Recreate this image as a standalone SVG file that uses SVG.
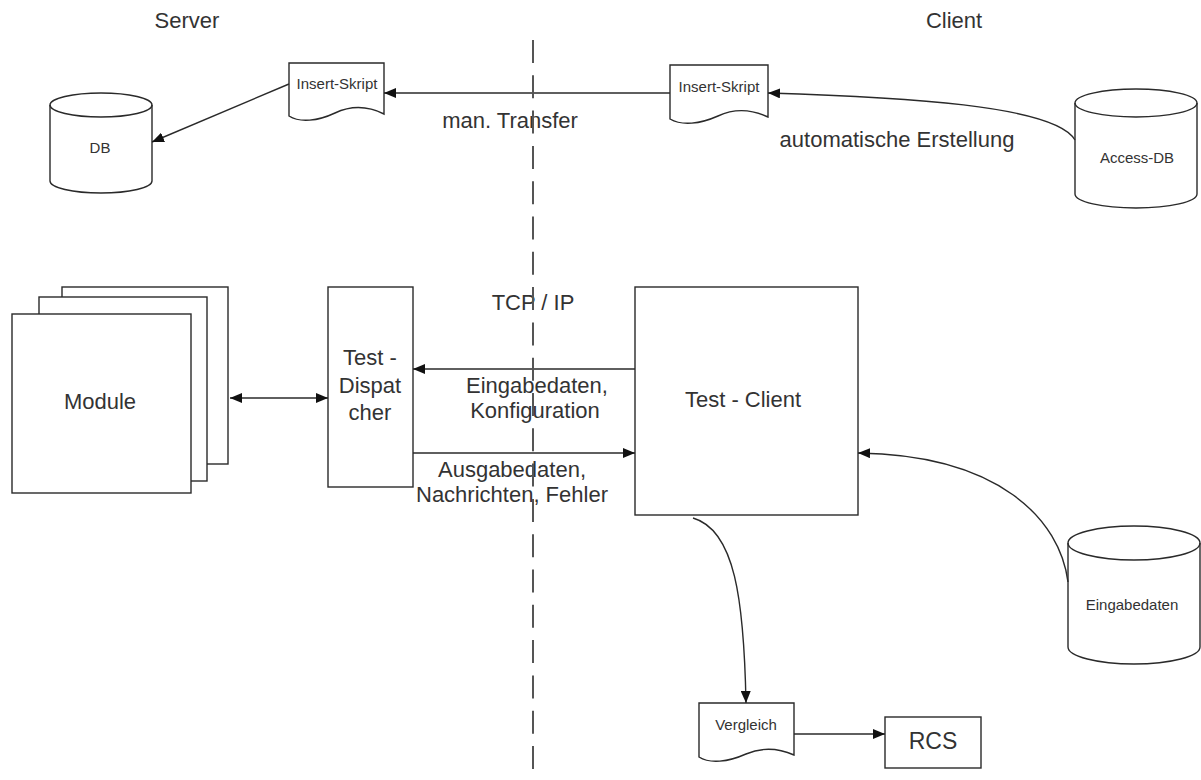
<svg xmlns="http://www.w3.org/2000/svg" width="1201" height="780" viewBox="0 0 1201 780">
<defs>
<style>
.shape{fill:#fff;stroke:#2a2a2a;stroke-width:1.4}
.line{fill:none;stroke:#2a2a2a;stroke-width:1.4}
.t{font-family:"Liberation Sans",Arial,sans-serif;fill:#333;text-anchor:middle}
.big{font-size:22px}
.small{font-size:15px}
.dash{fill:none;stroke:#555;stroke-width:2;stroke-dasharray:23 12.3}
</style>
<marker id="ah" viewBox="0 0 12 10" refX="12" refY="5" markerWidth="12" markerHeight="10" markerUnits="userSpaceOnUse" orient="auto-start-reverse">
<path d="M0,0 L12,5 L0,10 Z" fill="#111"/>
</marker>
</defs>
<rect width="1201" height="780" fill="#fff"/>

<text class="t big" x="187" y="28">Server</text>
<text class="t big" x="954" y="28">Client</text>

<g id="db">
<path class="shape" d="M50,105 V181 A51,12 0 0 0 152,181 V105 A51,12 0 0 0 50,105 Z"/>
<path class="line" d="M50,105 A51,12 0 0 0 152,105"/>
<text class="t small" x="100" y="153">DB</text>
</g>

<g id="insert-server">
<path class="shape" d="M289,63 H384 V114 C366,105 350,106 335,113 C318,121 300,123 289,116 Z"/>
<text class="t small" x="337" y="89">Insert-Skript</text>
</g>

<g id="insert-client">
<path class="shape" d="M670,65 H768 V117 C749,108 733,109 718,116 C700,124 682,126 670,119 Z"/>
<text class="t small" x="719" y="92">Insert-Skript</text>
</g>

<g id="access-db">
<path class="shape" d="M1075,103 V194 A61,14 0 0 0 1197,194 V103 A61,14 0 0 0 1075,103 Z"/>
<path class="line" d="M1075,103 A61,14 0 0 0 1197,103"/>
<text class="t small" x="1137" y="163">Access-DB</text>
</g>

<g id="module">
<rect class="shape" x="62" y="287" width="166" height="177"/>
<rect class="shape" x="39" y="297" width="168" height="184"/>
<rect class="shape" x="12" y="314" width="179" height="179"/>
<text class="t big" x="100" y="409">Module</text>
</g>

<g id="dispatcher">
<rect class="shape" x="328" y="287" width="85" height="200"/>
<text class="t big" x="370" y="365">Test -</text>
<text class="t big" x="370" y="393">Dispat</text>
<text class="t big" x="370" y="420">cher</text>
</g>

<g id="test-client">
<rect class="shape" x="635" y="287" width="223" height="228"/>
<text class="t big" x="743" y="407">Test - Client</text>
</g>

<g id="eingabedaten">
<path class="shape" d="M1068,543 V647 A66,17 0 0 0 1200,647 V543 A66,17 0 0 0 1068,543 Z"/>
<path class="line" d="M1068,543 A66,17 0 0 0 1200,543"/>
<text class="t small" x="1132" y="610">Eingabedaten</text>
</g>

<g id="vergleich">
<path class="shape" d="M699,703 H794 V755 C776,747 760,748 746,754 C728,762 710,764 699,757 Z"/>
<text class="t small" x="746" y="730">Vergleich</text>
</g>

<g id="rcs">
<rect class="shape" x="885" y="717" width="96" height="51"/>
<text class="t big" x="933" y="749" style="font-size:23px">RCS</text>
</g>

<g id="labels">
<text class="t big" x="510" y="128">man. Transfer</text>
<text class="t big" x="897" y="147">automatische Erstellung</text>
<text class="t big" x="533" y="310">TCP / IP</text>
<text class="t big" x="537" y="393">Eingabedaten,</text>
<text class="t big" x="535" y="418">Konfiguration</text>
<text class="t big" x="512" y="477">Ausgabedaten,</text>
<text class="t big" x="512" y="502">Nachrichten, Fehler</text>
</g>

<g id="connectors">
<path class="line" d="M289,84 L152,142" marker-end="url(#ah)"/>
<path class="line" d="M670,93 L384,93" marker-end="url(#ah)"/>
<path class="line" d="M1075,140 C1055,105 900,97 768,93" marker-end="url(#ah)"/>
<path class="line" d="M230,398 L328,398" marker-start="url(#ah)" marker-end="url(#ah)"/>
<path class="line" d="M635,369 L413,369" marker-end="url(#ah)"/>
<path class="line" d="M413,453 L635,453" marker-end="url(#ah)"/>
<path class="line" d="M1068,582 C1060,520 1000,455 858,453" marker-end="url(#ah)"/>
<path class="line" d="M693,518 C735,530 744,600 746,703" marker-end="url(#ah)"/>
<path class="line" d="M794,734 L885,734" marker-end="url(#ah)"/>
<path class="dash" d="M533,40 V780"/>
</g>
</svg>
